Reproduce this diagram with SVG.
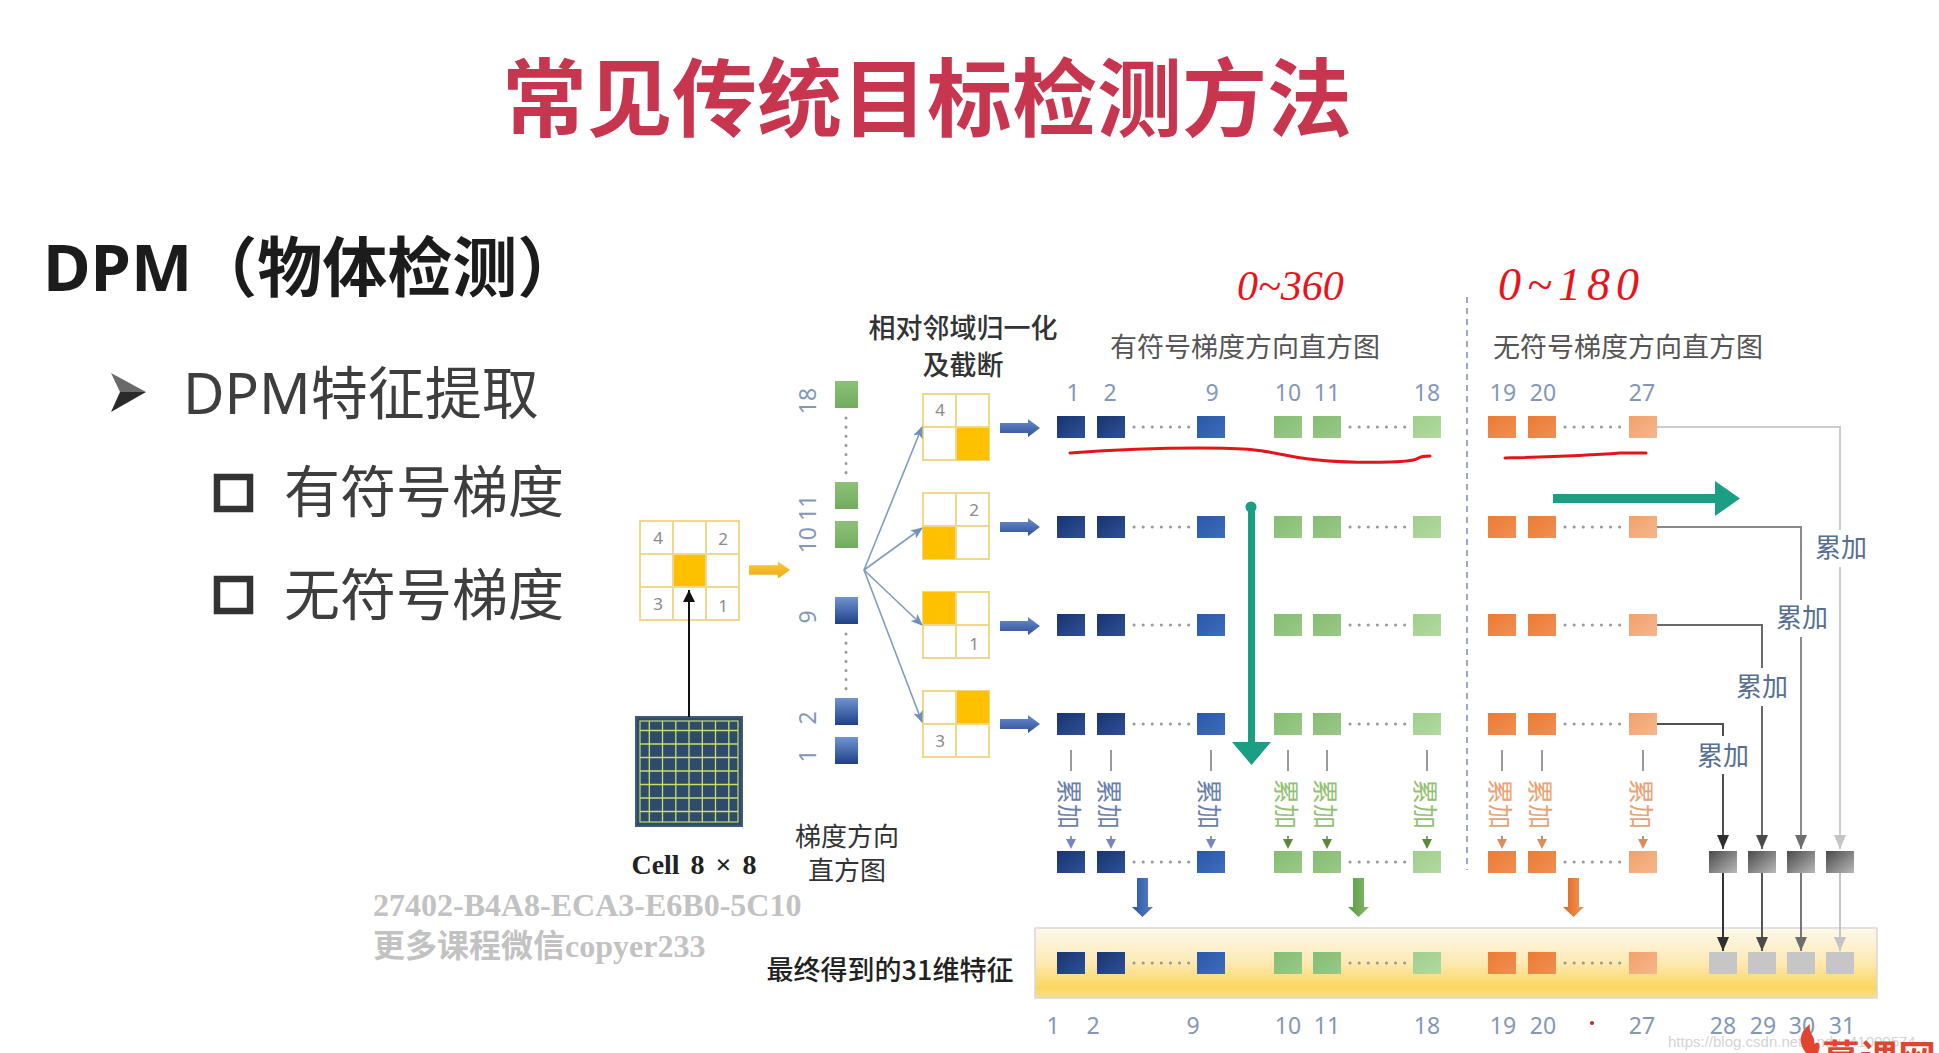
<svg xmlns="http://www.w3.org/2000/svg" xmlns:xlink="http://www.w3.org/1999/xlink" width="1939" height="1053" viewBox="0 0 1939 1053">
<style>
.cjk{font-family:"Noto Sans CJK SC","Noto Sans",sans-serif}
.num{font-family:"Noto Sans","Open Sans",sans-serif;font-size:23px;fill:#8497b8;text-anchor:middle}
.gl{font-family:"Noto Sans",sans-serif;font-size:17px;fill:#8a8a8a;text-anchor:middle}
.cell{fill:#fff;stroke:#f0d88a;stroke-width:2}
.org{fill:#ffc000}
.lbl{font-family:"Noto Sans CJK SC",sans-serif;font-size:26px;fill:#566f92;text-anchor:middle}
.vl{font-family:"Noto Sans CJK SC",sans-serif;font-size:25px;text-anchor:middle;writing-mode:vertical-rl;text-orientation:sideways;dominant-baseline:central}
.dots{stroke:#9a9a9a;stroke-width:3;stroke-linecap:round;stroke-dasharray:0.1 9;fill:none}
.hand{font-family:"Liberation Serif",serif;font-style:italic;fill:#e8141c}
.red{fill:none;stroke:#e3151b;stroke-width:3;stroke-linecap:round}
.stub{stroke:#777;stroke-width:1.5}
.wm{font-family:"Liberation Serif","Noto Sans CJK SC",serif;font-size:32px;font-weight:700;fill:#c2c2c2}
</style>
<defs>
<linearGradient id="gBlue" x1="0" y1="0" x2="1" y2="1"><stop offset="0" stop-color="#1a346e"/><stop offset="1" stop-color="#2c5198"/></linearGradient>
<linearGradient id="gBlue9" x1="0" y1="0" x2="1" y2="1"><stop offset="0" stop-color="#2b58a6"/><stop offset="1" stop-color="#3d6dc0"/></linearGradient>
<linearGradient id="gGreen" x1="0" y1="0" x2="1" y2="1"><stop offset="0" stop-color="#86bd72"/><stop offset="1" stop-color="#99c987"/></linearGradient>
<linearGradient id="gGreen18" x1="0" y1="0" x2="1" y2="1"><stop offset="0" stop-color="#a0cf8c"/><stop offset="1" stop-color="#b2d9a0"/></linearGradient>
<linearGradient id="gOrange" x1="0" y1="0" x2="1" y2="1"><stop offset="0" stop-color="#ec7b34"/><stop offset="1" stop-color="#f08f52"/></linearGradient>
<linearGradient id="gOrange27" x1="0" y1="0" x2="1" y2="1"><stop offset="0" stop-color="#f2a06c"/><stop offset="1" stop-color="#f6b78c"/></linearGradient>
<linearGradient id="gGray" x1="0" y1="0" x2="1" y2="1"><stop offset="0" stop-color="#4a4a4a"/><stop offset="1" stop-color="#b8b8b8"/></linearGradient>
<linearGradient id="gBand" x1="0" y1="0" x2="0" y2="1"><stop offset="0" stop-color="#fdf8ec"/><stop offset="0.5" stop-color="#fde9b2"/><stop offset="0.85" stop-color="#fbd660"/><stop offset="1" stop-color="#f7df90"/></linearGradient>
<linearGradient id="gColBlue" x1="0" y1="0" x2="0" y2="1"><stop offset="0" stop-color="#6f95d0"/><stop offset="1" stop-color="#1f4088"/></linearGradient>
<linearGradient id="gColGreen" x1="0" y1="0" x2="0" y2="1"><stop offset="0" stop-color="#8cc278"/><stop offset="1" stop-color="#72ab5e"/></linearGradient>
<linearGradient id="gArrBlue" x1="0" y1="0" x2="0" y2="1"><stop offset="0" stop-color="#6c8fd0"/><stop offset="1" stop-color="#2c4f98"/></linearGradient>
<linearGradient id="gDnBlue" x1="0" y1="0" x2="1" y2="0"><stop offset="0" stop-color="#2b53a0"/><stop offset="1" stop-color="#5a80c8"/></linearGradient>
<linearGradient id="gDnGreen" x1="0" y1="0" x2="1" y2="0"><stop offset="0" stop-color="#5e9a45"/><stop offset="1" stop-color="#82ba68"/></linearGradient>
<linearGradient id="gDnOrange" x1="0" y1="0" x2="1" y2="0"><stop offset="0" stop-color="#e0651f"/><stop offset="1" stop-color="#f39a5a"/></linearGradient>
<linearGradient id="gArrOrg" x1="0" y1="0" x2="0" y2="1"><stop offset="0" stop-color="#fbc93a"/><stop offset="1" stop-color="#f0a814"/></linearGradient>
<marker id="mFan" markerUnits="userSpaceOnUse" markerWidth="12" markerHeight="10" refX="11" refY="5" orient="auto"><path d="M0,0 L12,5 L0,10 L3,5 Z" fill="#6f8fbb"/></marker>
<marker id="mBlack" markerUnits="userSpaceOnUse" markerWidth="12" markerHeight="12" refX="12" refY="6" orient="auto"><path d="M0,0 L12,6 L0,12 Z" fill="#111"/></marker>
<marker id="m1" markerUnits="userSpaceOnUse" markerWidth="14" markerHeight="12" refX="14" refY="6" orient="auto"><path d="M0,0 L14,6 L0,12 Z" fill="#2e2e2e"/></marker>
<marker id="m2" markerUnits="userSpaceOnUse" markerWidth="14" markerHeight="12" refX="14" refY="6" orient="auto"><path d="M0,0 L14,6 L0,12 Z" fill="#4a4a4a"/></marker>
<marker id="m3" markerUnits="userSpaceOnUse" markerWidth="14" markerHeight="12" refX="14" refY="6" orient="auto"><path d="M0,0 L14,6 L0,12 Z" fill="#6e6e6e"/></marker>
<marker id="m4" markerUnits="userSpaceOnUse" markerWidth="14" markerHeight="12" refX="14" refY="6" orient="auto"><path d="M0,0 L14,6 L0,12 Z" fill="#c4c4c4"/></marker>
<path id="blkR" d="M0,-5 H28 V-9 L40,0 L28,9 V5 H0 Z"/>
<g id="hrow">
<rect x="1057" y="-11" width="28" height="22" fill="url(#gBlue)"/>
<rect x="1097" y="-11" width="28" height="22" fill="url(#gBlue)"/>
<line class="dots" x1="1134" y1="0" x2="1190" y2="0"/>
<rect x="1197" y="-11" width="28" height="22" fill="url(#gBlue9)"/>
<rect x="1274" y="-11" width="28" height="22" fill="url(#gGreen)"/>
<rect x="1313" y="-11" width="28" height="22" fill="url(#gGreen)"/>
<line class="dots" x1="1350" y1="0" x2="1406" y2="0"/>
<rect x="1413" y="-11" width="28" height="22" fill="url(#gGreen18)"/>
<rect x="1488" y="-11" width="28" height="22" fill="url(#gOrange)"/>
<rect x="1528" y="-11" width="28" height="22" fill="url(#gOrange)"/>
<line class="dots" x1="1565" y1="0" x2="1621" y2="0"/>
<rect x="1629" y="-11" width="28" height="22" fill="url(#gOrange27)"/>
</g>
</defs>
<rect width="1939" height="1053" fill="#ffffff"/>

<g id="title">
<text x="927" y="130" class="cjk" font-size="85" font-weight="700" fill="#c8354f" text-anchor="middle">常见传统目标检测方法</text>
</g>
<g id="heading">
<text x="43" y="291" font-family="'Noto Sans','Noto Sans CJK SC',sans-serif" font-size="65" font-weight="700" fill="#1c1c1c">DPM（物体检测）</text>
</g>
<g id="bullet1">
<path d="M111,373 L146,392 L120,392 Z" fill="#6a6a6a"/>
<path d="M111,412 L146,392 L120,392 Z" fill="#2a2a2a"/>
<text x="183" y="414" font-family="'Noto Sans','Noto Sans CJK SC',sans-serif" font-size="57" fill="#3e3e3e">DPM特征提取</text>
</g>
<g id="bullet2">
<rect x="217" y="477" width="33" height="32" fill="none" stroke="#333" stroke-width="6.5"/>
<text x="284" y="512" class="cjk" font-size="56" fill="#3e3e3e">有符号梯度</text>
</g>
<g id="bullet3">
<rect x="217" y="579" width="33" height="32" fill="none" stroke="#333" stroke-width="6.5"/>
<text x="284" y="615" class="cjk" font-size="56" fill="#3e3e3e">无符号梯度</text>
</g>

<g id="cell8x8">
<rect x="636" y="717" width="106" height="109" fill="#2e4b6c" stroke="#3f5a78" stroke-width="2"/>
<path d="M649.3,721V822M662.5,721V822M675.8,721V822M689,721V822M702.3,721V822M715.5,721V822M728.8,721V822M640,730.5H738M640,744H738M640,757.5H738M640,771H738M640,784.5H738M640,798H738M640,811.5H738" stroke="#c9df6c" stroke-width="1.3" fill="none"/>
<rect x="640" y="721" width="98" height="101" fill="none" stroke="#b9d068" stroke-width="1.3"/>
<text x="694" y="874" font-family="'Liberation Serif',serif" font-size="28" font-weight="700" fill="#222" text-anchor="middle" word-spacing="4">Cell 8 × 8</text>
</g>

<g id="grid3x3">
<rect class="cell" x="640" y="521" width="99" height="99"/>
<rect class="org" x="673" y="554" width="33" height="33"/>
<path d="M673,521V620M706,521V620M640,554H739M640,587H739" stroke="#f0d88a" stroke-width="2"/>
<text class="gl" x="658" y="544">4</text><text class="gl" x="723" y="545">2</text>
<text class="gl" x="658" y="610">3</text><text class="gl" x="723" y="612">1</text>
</g>

<g id="histCol">
<rect x="835" y="381" width="23" height="27" fill="url(#gColGreen)"/>
<line class="dots" x1="846" y1="418" x2="846" y2="474"/>
<rect x="835" y="482" width="23" height="27" fill="url(#gColGreen)"/>
<rect x="835" y="521" width="23" height="27" fill="url(#gColGreen)"/>
<rect x="835" y="597" width="23" height="27" fill="url(#gColBlue)"/>
<line class="dots" x1="846" y1="634" x2="846" y2="690"/>
<rect x="835" y="698" width="23" height="27" fill="url(#gColBlue)"/>
<rect x="835" y="737" width="23" height="27" fill="url(#gColBlue)"/>
<text class="num" transform="translate(816,401) rotate(-90)">18</text>
<text class="num" transform="translate(816,524) rotate(-90)">10 11</text>
<text class="num" transform="translate(816,617) rotate(-90)">9</text>
<text class="num" transform="translate(816,718) rotate(-90)">2</text>
<text class="num" transform="translate(816,756) rotate(-90)">1</text>
<text x="847" y="846" class="cjk" font-size="26" fill="#333" text-anchor="middle">梯度方向</text>
<text x="847" y="880" class="cjk" font-size="26" fill="#333" text-anchor="middle">直方图</text>
</g>

<g id="normLabel">
<text x="963" y="338" class="cjk" font-size="27" font-weight="500" fill="#333" text-anchor="middle">相对邻域归一化</text>
<text x="963" y="375" class="cjk" font-size="27" font-weight="500" fill="#333" text-anchor="middle">及截断</text>
</g>

<g id="grid2x2a">
<rect class="cell" x="923" y="394" width="66" height="66"/>
<rect class="org" x="956" y="427" width="33" height="33"/>
<path d="M956,394V460M923,427H989" stroke="#f0d88a" stroke-width="2"/>
<text class="gl" x="940" y="416">4</text>
</g>
<g id="grid2x2b">
<rect class="cell" x="923" y="493" width="66" height="66"/>
<rect class="org" x="923" y="526" width="33" height="33"/>
<path d="M956,493V559M923,526H989" stroke="#f0d88a" stroke-width="2"/>
<text class="gl" x="974" y="516">2</text>
</g>
<g id="grid2x2c">
<rect class="cell" x="923" y="592" width="66" height="66"/>
<rect class="org" x="923" y="592" width="33" height="33"/>
<path d="M956,592V658M923,625H989" stroke="#f0d88a" stroke-width="2"/>
<text class="gl" x="974" y="650">1</text>
</g>
<g id="grid2x2d">
<rect class="cell" x="923" y="691" width="66" height="66"/>
<rect class="org" x="956" y="691" width="33" height="33"/>
<path d="M956,691V757M923,724H989" stroke="#f0d88a" stroke-width="2"/>
<text class="gl" x="940" y="747">3</text>
</g>

<g id="headers">
<text x="1245" y="357" class="cjk" font-size="27" fill="#555" text-anchor="middle">有符号梯度方向直方图</text>
<text x="1628" y="357" class="cjk" font-size="27" fill="#555" text-anchor="middle">无符号梯度方向直方图</text>
<text class="num" x="1073" y="401">1</text><text class="num" x="1110" y="401">2</text><text class="num" x="1212" y="401">9</text>
<text class="num" x="1288" y="401">10</text><text class="num" x="1327" y="401">11</text><text class="num" x="1427" y="401">18</text>
<text class="num" x="1503" y="401">19</text><text class="num" x="1543" y="401">20</text><text class="num" x="1642" y="401">27</text>
</g>

<g id="annotations">
<text class="hand" x="1237" y="300" font-size="42">0~360</text>
<text class="hand" x="1498" y="300" font-size="46" letter-spacing="6">0~180</text>
<path class="red" d="M1070,453 C1110,450 1150,448 1200,448 S1260,450 1290,456 S1350,463 1390,462 S1410,456 1430,456"/>
<path class="red" d="M1505,458 C1540,457 1580,456 1620,453 L1646,453"/>
<circle cx="1592" cy="1023" r="2" fill="#c0282e"/>
</g>

<line id="separator" x1="1467" y1="297" x2="1467" y2="870" stroke="#9aaac2" stroke-width="2" stroke-dasharray="6 5"/>

<g id="row1"><use xlink:href="#hrow" href="#hrow" y="427"/></g>
<g id="row2"><use xlink:href="#hrow" href="#hrow" y="527"/></g>
<g id="row3"><use xlink:href="#hrow" href="#hrow" y="625"/></g>
<g id="row4"><use xlink:href="#hrow" href="#hrow" y="724"/></g>
<g id="row5"><use xlink:href="#hrow" href="#hrow" y="862"/>
<rect x="1709" y="851" width="28" height="22" fill="url(#gGray)"/>
<rect x="1748" y="851" width="28" height="22" fill="url(#gGray)"/>
<rect x="1787" y="851" width="28" height="22" fill="url(#gGray)"/>
<rect x="1826" y="851" width="28" height="22" fill="url(#gGray)"/>
</g>

<g id="finalBand">
<rect x="1035" y="928" width="842" height="70" fill="url(#gBand)" stroke="#d8d8d8" stroke-width="1.5"/>
<use xlink:href="#hrow" href="#hrow" y="963"/>
<rect x="1709" y="952" width="28" height="22" fill="#c6c6c6"/>
<rect x="1748" y="952" width="28" height="22" fill="#c6c6c6"/>
<rect x="1787" y="952" width="28" height="22" fill="#c6c6c6"/>
<rect x="1826" y="952" width="28" height="22" fill="#c6c6c6"/>
<text x="890" y="980" class="cjk" font-size="27" font-weight="500" fill="#222" text-anchor="middle">最终得到的31维特征</text>
<text class="num" x="1053" y="1034">1</text><text class="num" x="1093" y="1034">2</text><text class="num" x="1193" y="1034">9</text>
<text class="num" x="1288" y="1034">10</text><text class="num" x="1327" y="1034">11</text><text class="num" x="1427" y="1034">18</text>
<text class="num" x="1503" y="1034">19</text><text class="num" x="1543" y="1034">20</text><text class="num" x="1642" y="1034">27</text>
<text class="num" x="1723" y="1034">28</text><text class="num" x="1763" y="1034">29</text><text class="num" x="1802" y="1034">30</text><text class="num" x="1842" y="1034">31</text>
</g>

<g id="connectors">
<use xlink:href="#blkR" href="#blkR" transform="translate(749,570) scale(1.03,0.95)" fill="url(#gArrOrg)"/>
<line x1="689" y1="717" x2="689" y2="590" stroke="#111" stroke-width="2" marker-end="url(#mBlack)"/>
<g stroke="#7f9cc0" stroke-width="1.6" fill="none">
<line x1="864" y1="570" x2="922" y2="427" marker-end="url(#mFan)"/>
<line x1="864" y1="570" x2="922" y2="528" marker-end="url(#mFan)"/>
<line x1="864" y1="570" x2="922" y2="625" marker-end="url(#mFan)"/>
<line x1="864" y1="570" x2="922" y2="722" marker-end="url(#mFan)"/>
</g>
<use xlink:href="#blkR" href="#blkR" transform="translate(1000,428)" fill="url(#gArrBlue)"/>
<use xlink:href="#blkR" href="#blkR" transform="translate(1000,527)" fill="url(#gArrBlue)"/>
<use xlink:href="#blkR" href="#blkR" transform="translate(1000,626)" fill="url(#gArrBlue)"/>
<use xlink:href="#blkR" href="#blkR" transform="translate(1000,724)" fill="url(#gArrBlue)"/>

<g id="tealArrows" fill="#1a9e84">
<circle cx="1251" cy="507" r="5.5"/>
<rect x="1248" y="507" width="7" height="238"/>
<polygon points="1232,742 1271,742 1251.5,765"/>
<rect x="1553" y="494" width="166" height="9"/>
<polygon points="1715,481 1740,498.5 1715,516"/>
</g>

<g id="accumDown">
<g class="stub"><line x1="1071" y1="750" x2="1071" y2="771"/><line x1="1111" y1="750" x2="1111" y2="771"/><line x1="1211" y1="750" x2="1211" y2="771"/>
<line x1="1288" y1="750" x2="1288" y2="771"/><line x1="1327" y1="750" x2="1327" y2="771"/><line x1="1427" y1="750" x2="1427" y2="771"/>
<line x1="1502" y1="750" x2="1502" y2="771"/><line x1="1542" y1="750" x2="1542" y2="771"/><line x1="1643" y1="750" x2="1643" y2="771"/>
<line x1="1071" y1="836" x2="1071" y2="842"/><line x1="1111" y1="836" x2="1111" y2="842"/><line x1="1211" y1="836" x2="1211" y2="842"/>
<line x1="1288" y1="836" x2="1288" y2="842"/><line x1="1327" y1="836" x2="1327" y2="842"/><line x1="1427" y1="836" x2="1427" y2="842"/>
<line x1="1502" y1="836" x2="1502" y2="842"/><line x1="1542" y1="836" x2="1542" y2="842"/><line x1="1643" y1="836" x2="1643" y2="842"/></g>
<g class="vl" fill="#6b7fae">
<text x="1071" y="804">累加</text>
<text x="1111" y="804">累加</text>
<text x="1211" y="804">累加</text>
</g>
<g class="vl" fill="#93c173">
<text x="1288" y="804">累加</text>
<text x="1327" y="804">累加</text>
<text x="1427" y="804">累加</text>
</g>
<g class="vl" fill="#eba272">
<text x="1502" y="804">累加</text>
<text x="1542" y="804">累加</text>
<text x="1643" y="804">累加</text>
</g>
<g fill="#7a86c2"><polygon points="1066,839 1076,839 1071,849"/><polygon points="1106,839 1116,839 1111,849"/><polygon points="1206,839 1216,839 1211,849"/></g>
<g fill="#5d8a3a"><polygon points="1283,839 1293,839 1288,849"/><polygon points="1322,839 1332,839 1327,849"/><polygon points="1422,839 1432,839 1427,849"/></g>
<g fill="#dd8c5c"><polygon points="1497,839 1507,839 1502,849"/><polygon points="1537,839 1547,839 1542,849"/><polygon points="1638,839 1648,839 1643,849"/></g>
</g>

<g id="blockDown">
<path d="M1137,878 H1148 V907 H1153 L1142.5,917 L1132,907 H1137 Z" fill="url(#gDnBlue)"/>
<path d="M1353,878 H1364 V907 H1369 L1358.5,917 L1348,907 H1353 Z" fill="url(#gDnGreen)"/>
<path d="M1568,878 H1579 V907 H1584 L1573.5,917 L1563,907 H1568 Z" fill="url(#gDnOrange)"/>
</g>

<g id="sumLines" fill="none" stroke-width="2">
<path d="M1657,427 H1840 V530" stroke="#cccccc"/>
<path d="M1840,567 V849" stroke="#cccccc" marker-end="url(#m4)"/>
<path d="M1657,527 H1801 V600" stroke="#8a8a8a"/>
<path d="M1801,637 V849" stroke="#8a8a8a" marker-end="url(#m3)"/>
<path d="M1657,625 H1762 V668" stroke="#6a6a6a"/>
<path d="M1762,706 V849" stroke="#6a6a6a" marker-end="url(#m2)"/>
<path d="M1657,724 H1723 V736" stroke="#505050"/>
<path d="M1723,774 V849" stroke="#505050" marker-end="url(#m1)"/>
<path d="M1723,873 V951" stroke="#333" marker-end="url(#m1)"/>
<path d="M1762,873 V951" stroke="#555" marker-end="url(#m2)"/>
<path d="M1801,873 V951" stroke="#777" marker-end="url(#m3)"/>
<path d="M1840,873 V951" stroke="#c4c4c4" marker-end="url(#m4)"/>
</g>
<g class="lbl">
<text x="1841" y="557">累加</text>
<text x="1802" y="627">累加</text>
<text x="1762" y="696">累加</text>
<text x="1723" y="765">累加</text>
</g>
</g>

<g id="watermarks">
<text x="373" y="916" class="wm">27402-B4A8-ECA3-E6B0-5C10</text>
<text x="373" y="957" class="wm">更多课程微信copyer233</text>
<text x="1668" y="1047" font-family="'Liberation Sans',sans-serif" font-size="15" fill="#c8c8c8" fill-opacity="0.8">https://blog.csdn.net/Andy_41000574</text>
<path d="M1806,1053 C1796,1040 1802,1030 1810,1024 C1808,1034 1816,1036 1814,1044 C1820,1040 1821,1046 1818,1053 Z" fill="#e2452f"/>
<text x="1822" y="1072" class="cjk" font-size="38" font-weight="700" fill="#e2452f">慕课网</text>
</g>
</svg>
